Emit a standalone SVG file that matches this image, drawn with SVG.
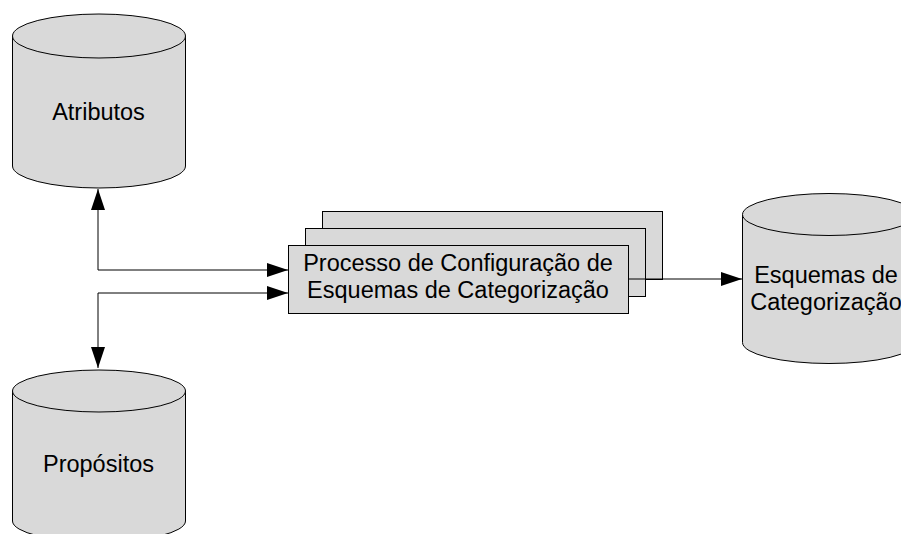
<svg xmlns="http://www.w3.org/2000/svg" width="901" height="534" viewBox="0 0 901 534">
  <style>
    .shape { fill: #d9d9d9; stroke: #000; stroke-width: 1; }
    .label { font-family: "Liberation Sans", Arial, sans-serif; font-size: 23.5px; fill: #000; text-anchor: middle; }
    .conn { fill: none; stroke: #000; stroke-width: 1; }
  </style>
  <defs>
    <marker id="arrow" markerUnits="userSpaceOnUse" markerWidth="22" markerHeight="14" refX="21" refY="7" orient="auto-start-reverse">
      <path d="M0,0 L21,7 L0,14 Z" fill="#000"/>
    </marker>
  </defs>

  <rect width="901" height="534" fill="#fff"/>

  <!-- Data store: Atributos -->
  <g id="atributos">
    <path class="shape" d="M12.5,36 A86.5,22 0 0 1 185.5,36 V166 A86.5,22 0 0 1 12.5,166 Z"/>
    <path class="shape" fill="none" d="M12.5,36 A86.5,22 0 0 0 185.5,36"/>
    <text class="label" x="98.5" y="120">Atributos</text>
  </g>

  <!-- Data store: Propósitos -->
  <g id="propositos">
    <path class="shape" d="M12.5,391 A86.5,21 0 0 1 185.5,391 V521 A86.5,21 0 0 1 12.5,521 Z"/>
    <path class="shape" fill="none" d="M12.5,391 A86.5,21 0 0 0 185.5,391"/>
    <text class="label" x="98.5" y="472">Propósitos</text>
  </g>

  <!-- Data store: Esquemas de Categorização (extends past the right edge) -->
  <g id="esquemas">
    <path class="shape" d="M742.5,214.5 A86.5,21 0 0 1 915.5,214.5 V342.5 A86.5,21 0 0 1 742.5,342.5 Z"/>
    <path class="shape" fill="none" d="M742.5,214.5 A86.5,21 0 0 0 915.5,214.5"/>
    <text class="label" x="826" y="283">Esquemas de</text>
    <text class="label" x="826" y="310">Categorização</text>
  </g>

  <!-- Multiple process (stacked boxes) -->
  <g id="processo">
    <rect class="shape" x="322.5" y="211.5" width="340" height="68"/>
    <rect class="shape" x="305.5" y="228.5" width="340" height="68"/>
    <rect class="shape" x="288.5" y="245.5" width="340" height="68"/>
    <text class="label" x="458" y="271">Processo de Configuração de</text>
    <text class="label" x="458" y="298">Esquemas de Categorização</text>
  </g>

  <!-- Connectors -->
  <g id="connectors">
    <path class="conn" d="M98,189 V270 H288" marker-start="url(#arrow)" marker-end="url(#arrow)"/>
    <path class="conn" d="M98,368 V293 H288" marker-start="url(#arrow)" marker-end="url(#arrow)"/>
    <path class="conn" d="M628,279 H742" marker-end="url(#arrow)"/>
  </g>
</svg>
